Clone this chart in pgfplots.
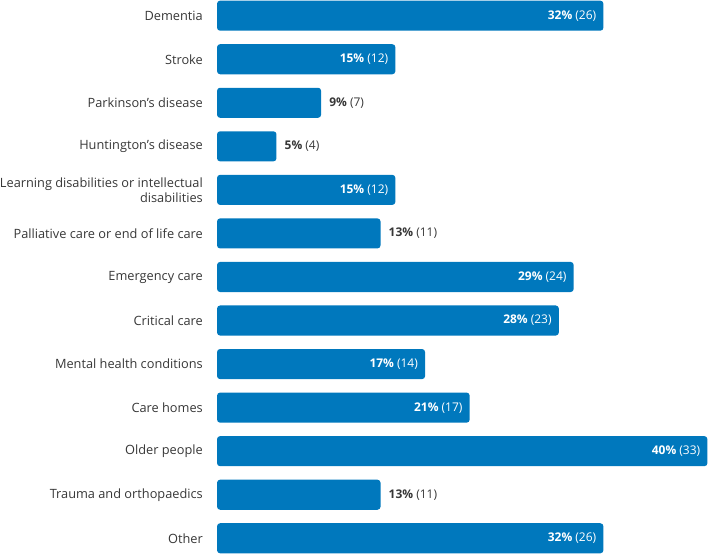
\documentclass[border=0pt]{standalone}
\usepackage{pgfplots}
\pgfplotsset{compat=1.18}
\usepackage{pgfplotstable}
\usepackage{fontspec}
\setmainfont{Open Sans}
\definecolor{barblue}{RGB}{0,120,189}
\definecolor{txt}{RGB}{55,55,55}
\pgfplotstableread{
y count pct
0 26 32
1 12 15
4 12 15
6 24 29
7 23 28
8 14 17
9 17 21
10 33 40
12 26 32
}\inside
\pgfplotstableread{
y count pct
2 7 9
3 4 5
5 11 13
11 11 13
}\outside
\begin{document}
\begin{tikzpicture}
\begin{axis}[
  /pgf/number format/assume math mode=true,
  xbar, bar width=30bp, bar shift=0pt,
  scale only axis, width=491bp, height=553bp,
  xmin=0, xmax=33.1, ymin=-0.36, ymax=12.36, y dir=reverse,
  axis line style={draw=none}, major tick length=0pt,
  xtick=\empty, ytick={0,...,12},
  yticklabels={Dementia,Stroke,Parkinson's disease,Huntington's disease,{Learning disabilities or intellectual\\disabilities},Palliative care or end of life care,Emergency care,Critical care,Mental health conditions,Care homes,Older people,Trauma and orthopaedics,Other},
  yticklabel style={font=\fontsize{12.8}{15}\selectfont, text=txt, align=right, inner sep=0pt, xshift=-14bp},
  point meta=x,
  nodes near coords={\textbf{\pgfmathprintnumber[fixed,precision=0]{\pct}\%} (\pgfmathprintnumber{\pgfplotspointmeta})},
  visualization depends on={\thisrow{pct} \as \pct},
]
\addplot[fill=barblue, draw=none, rounded corners=3bp,
  every node near coord/.append style={anchor=east, inner sep=0pt, xshift=-7bp, text=white, font=\fontsize{12}{14}\selectfont}]
  table[x=count, y=y] {\inside};
\addplot[fill=barblue, draw=none, rounded corners=3bp,
  every node near coord/.append style={anchor=west, inner sep=0pt, xshift=8bp, text=txt, font=\fontsize{12}{14}\selectfont}]
  table[x=count, y=y] {\outside};
\end{axis}
\end{tikzpicture}
\end{document}
